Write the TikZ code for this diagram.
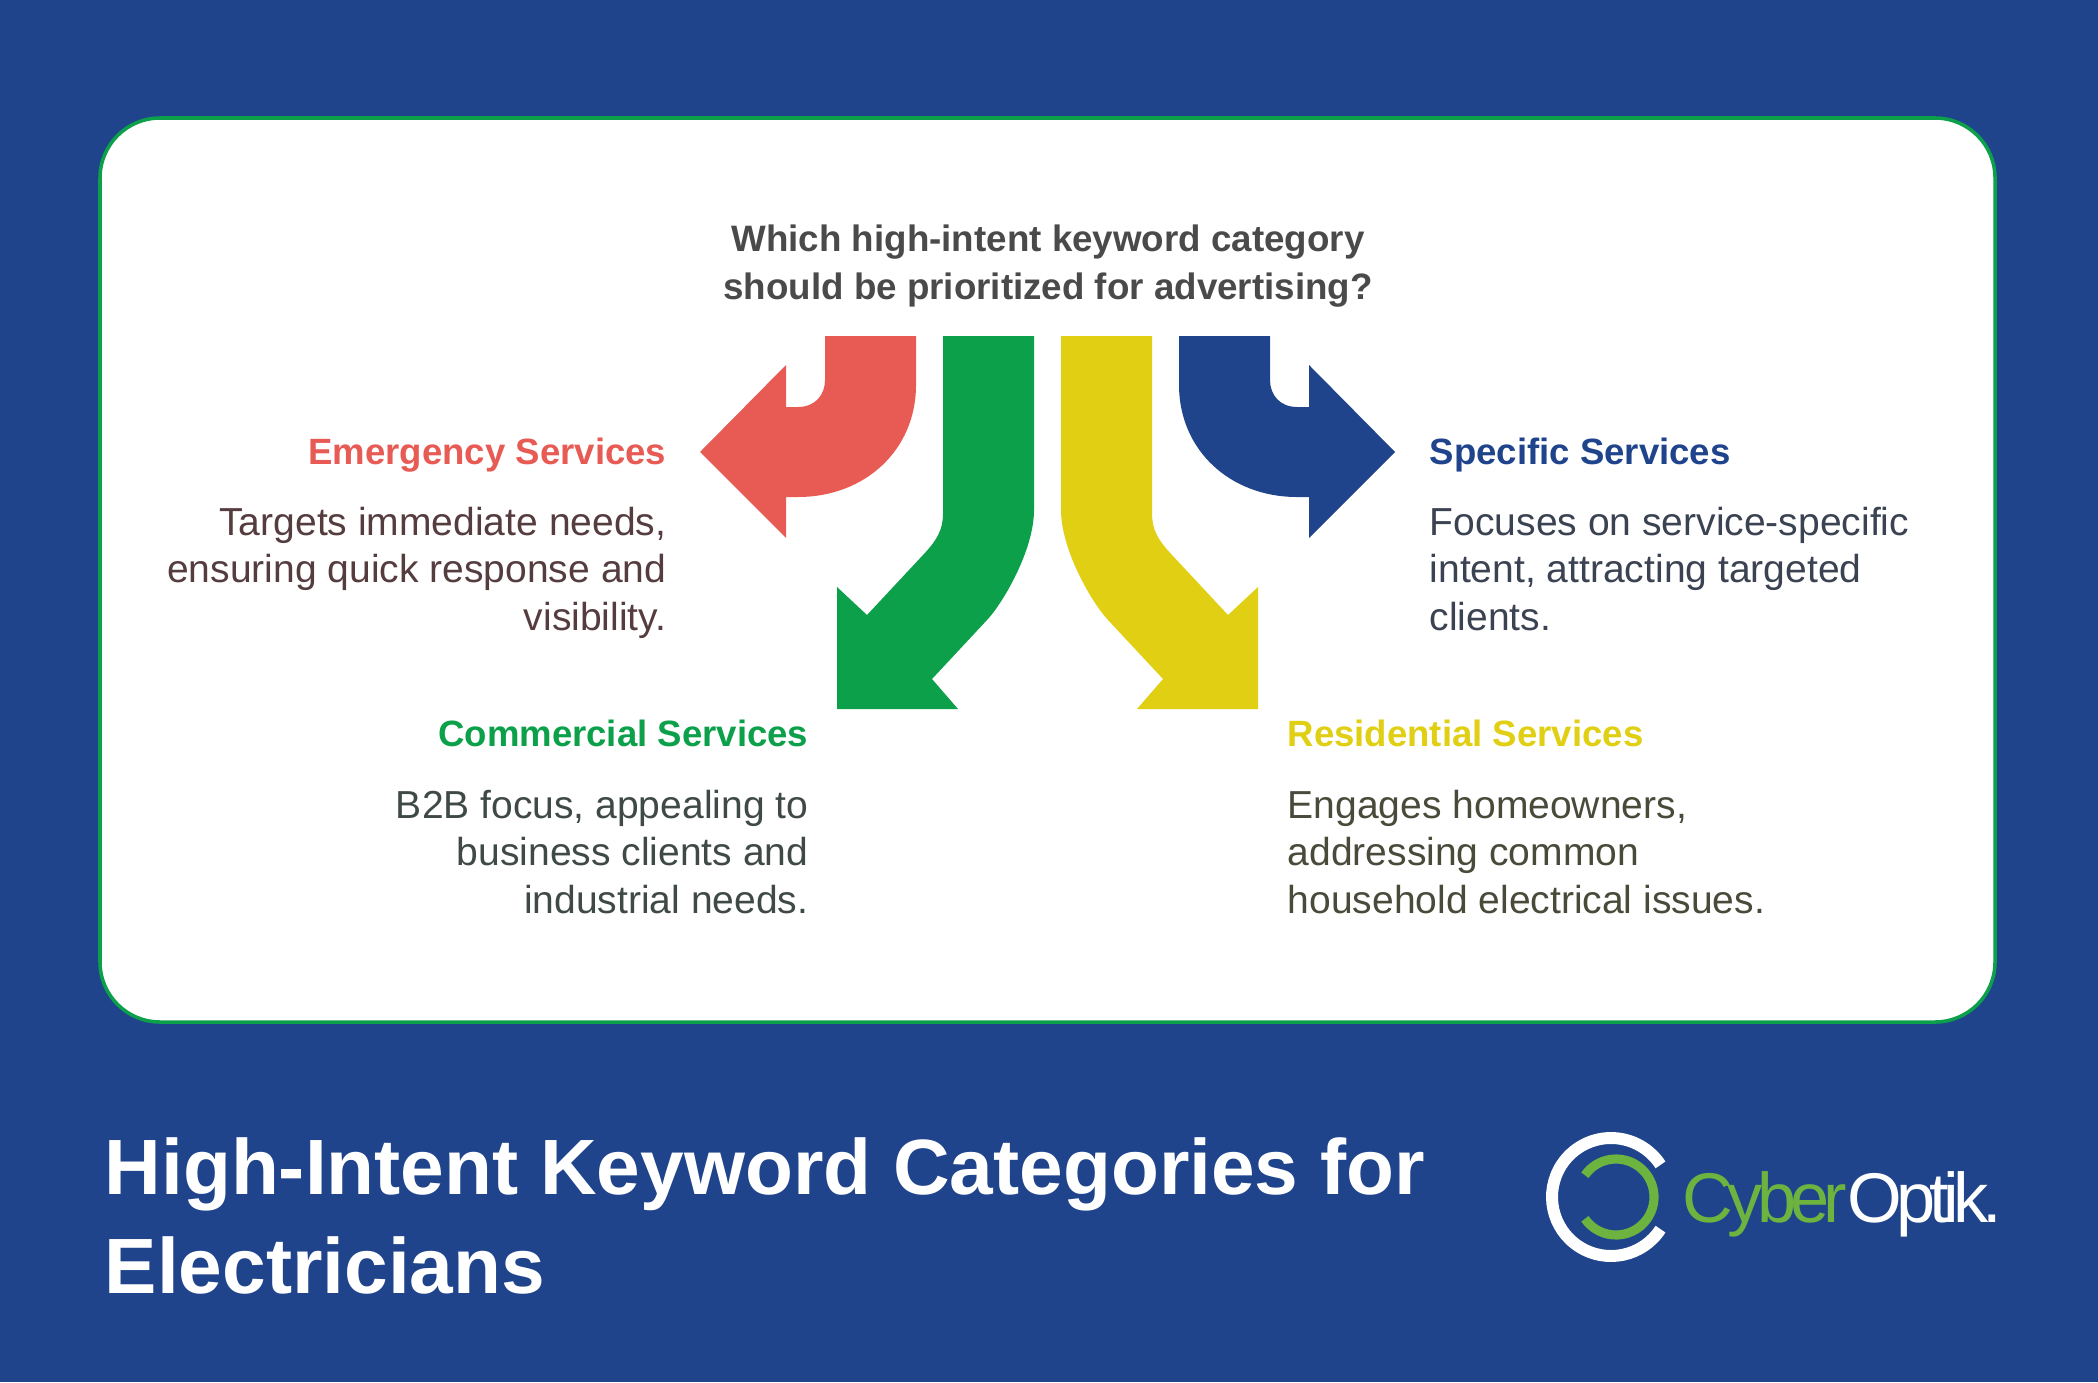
\documentclass[tikz,border=0pt]{standalone}
\usepackage{fontspec}
\setmainfont{Liberation Sans}
\usepackage{tikz}
\definecolor{bgblue}{HTML}{1F448C}
\definecolor{cardgreen}{HTML}{0CA04A}
\definecolor{arrowred}{HTML}{E85B55}
\definecolor{arrowgreen}{HTML}{0CA04A}
\definecolor{arrowyellow}{HTML}{E0CF12}
\definecolor{logogreen}{HTML}{6CB33F}
\definecolor{asktext}{HTML}{4A4A4A}
\definecolor{emergtext}{HTML}{553C3F}
\definecolor{commtext}{HTML}{3F4A47}
\definecolor{spectext}{HTML}{3B4252}
\definecolor{residtext}{HTML}{4A4A3A}
\tikzset{
  headtext/.style={inner sep=0pt, font=\fontsize{10.4}{13.4}\selectfont\bfseries},
  bodytext/.style={inner sep=0pt, font=\fontsize{11.1}{13.4}\selectfont},
  titletext/.style={inner sep=0pt, anchor=base west, align=left, text=white, font=\fontsize{22.3}{27.9}\selectfont\bfseries},
}
\begin{document}
\begin{tikzpicture}[x=0.01cm, y=-0.01cm]
        \useasboundingbox (0,0) rectangle (2098,1382);
        \fill[bgblue] (0,0) rectangle (2098,1382);
        \filldraw[draw=cardgreen, fill=white, line width=1pt, rounded corners=0.6cm] (100,118) rectangle (1995,1022);
        \node[inner sep=0pt, anchor=base, align=center, text=asktext, font=\fontsize{10.45}{13.4}\selectfont\bfseries] (ask) at (1048,299) {Which high-intent keyword category\\should be prioritized for advertising?};
        \fill[arrowred] (825,336) -- (916,336) -- (916,385) .. controls (916,450) and (865,497) .. (798,497) -- (786,497) -- (786,538) -- (700,452) -- (786,365) -- (786,407) -- (798,407) .. controls (815,407) and (825,395) .. (825,380) -- cycle;
        \fill[bgblue] (1270,336) -- (1179,336) -- (1179,385) .. controls (1179,450) and (1230,497) .. (1297,497) -- (1309,497) -- (1309,538) -- (1395,452) -- (1309,365) -- (1309,407) -- (1297,407) .. controls (1280,407) and (1270,395) .. (1270,380) -- cycle;
        \fill[arrowgreen] (943,336) -- (1034,336) -- (1034,510) .. controls (1034,550) and (1003,603) .. (987,620) -- (932,679) -- (958,709) -- (837,709) -- (837,587) -- (867,615) -- (923,555) .. controls (937,540) and (943,530) .. (943,513) -- cycle;
        \fill[arrowyellow] (1152,336) -- (1061,336) -- (1061,510) .. controls (1061,550) and (1092,603) .. (1108,620) -- (1163,679) -- (1137,709) -- (1258,709) -- (1258,587) -- (1228,615) -- (1172,555) .. controls (1158,540) and (1152,530) .. (1152,513) -- cycle;
        \node[headtext, anchor=base east, text=arrowred] (emerghead) at (667,464) {Emergency Services};
        \node[bodytext, anchor=base east, align=right, text=emergtext] (emergbody) at (667,630) {Targets immediate needs,\\ensuring quick response and\\visibility.};
        \node[headtext, anchor=base east, text=arrowgreen] (commhead) at (809,746) {Commercial Services};
        \node[bodytext, anchor=base east, align=right, text=commtext] (commbody) at (809,913) {B2B focus, appealing to\\business clients and\\industrial needs.};
        \node[headtext, anchor=base west, text=bgblue] (spechead) at (1429,464) {Specific Services};
        \node[bodytext, anchor=base west, align=left, text=spectext] (specbody) at (1429,630) {Focuses on service-specific\\intent, attracting targeted\\clients.};
        \node[headtext, anchor=base west, text=arrowyellow] (residhead) at (1287,746) {Residential Services};
        \node[bodytext, anchor=base west, align=left, text=residtext] (residbody) at (1287,913) {Engages homeowners,\\addressing common\\household electrical issues.};
        \node[titletext] (title) at (104,1293) {High-Intent Keyword Categories for\\Electricians};
        \draw[white, line width=3.4pt] (1611,1197) ++(33:59) arc[start angle=33, end angle=327, radius=59];
        \draw[logogreen, line width=2.6pt] (1616,1197) ++(-145:38) arc[start angle=-145, end angle=145, radius=38];
        \node[inner sep=0pt, anchor=base west, font=\fontsize{20}{24}\selectfont\addfontfeature{LetterSpace=-8.2}] (logotext) at (1682,1222) {\textcolor{logogreen}{Cyber}\textcolor{white}{Optik.}};
    \end{tikzpicture}
\end{document}
